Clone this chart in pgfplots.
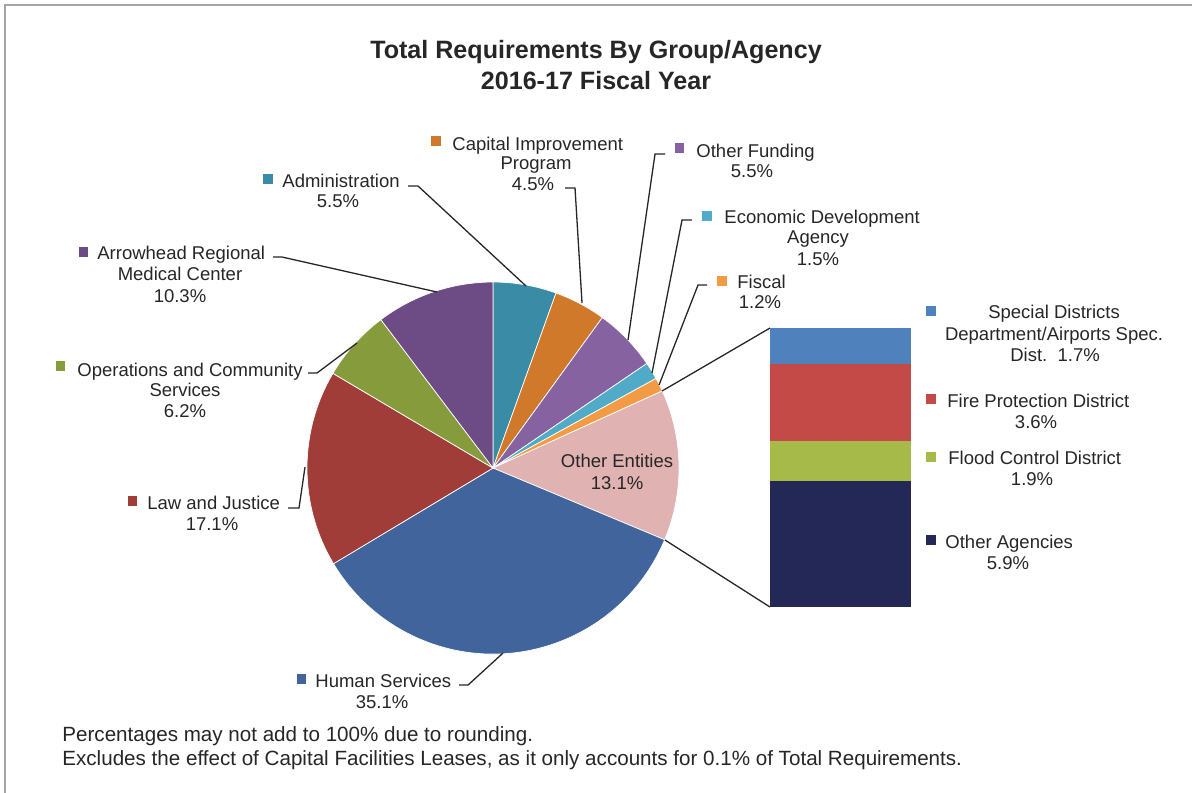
\documentclass[border=0pt]{standalone}
\usepackage{pgfplots}
\pgfplotsset{compat=1.18}
\usepackage{pgfplotstable}
\usepackage{fontspec}
\setmainfont{Liberation Sans}
\definecolor{cAdm}{HTML}{3A8BA6}
\definecolor{cCap}{HTML}{D0792B}
\definecolor{cOF}{HTML}{8762A0}
\definecolor{cEco}{HTML}{4FABC7}
\definecolor{cFis}{HTML}{F39A45}
\definecolor{cOE}{HTML}{E0B3B2}
\definecolor{cHum}{HTML}{40649B}
\definecolor{cLaw}{HTML}{A13D39}
\definecolor{cOps}{HTML}{869B3B}
\definecolor{cArr}{HTML}{6D4C86}
\definecolor{cSD}{HTML}{4F81BD}
\definecolor{cFire}{HTML}{C44A47}
\definecolor{cFlood}{HTML}{A6BA4A}
\definecolor{cOA}{HTML}{232856}
\definecolor{txt}{HTML}{262626}
\definecolor{frame}{HTML}{A6A6A6}

\pgfplotstableread{
name pct col
Administration 5.5 cAdm
CapitalImprovement 4.5 cCap
OtherFunding 5.5 cOF
EconomicDevelopment 1.5 cEco
Fiscal 1.2 cFis
OtherEntities 13.1 cOE
HumanServices 35.1 cHum
LawJustice 17.1 cLaw
Operations 6.2 cOps
Arrowhead 10.3 cArr
}\piedata

\newcommand\lf{\fontsize{9.25bp}{11bp}\selectfont}
\newcommand\tf{\fontsize{12.55bp}{14bp}\selectfont\bfseries}
\newcommand\ff{\fontsize{10.3bp}{12bp}\selectfont}
\newcommand\sq[3]{\node[fill=#1, minimum size=4.6bp, inner sep=0pt] at (#2,#3) {};}
\newcommand\lw[3]{\node[anchor=base west, font=\lf, text=txt, inner sep=0pt] at (#1,#2) {#3};}
\newcommand\lc[3]{\node[anchor=base, font=\lf, text=txt, inner sep=0pt] at (#1,#2) {#3};}

\begin{document}
\begin{tikzpicture}[x=0.5bp,y=-0.5bp]
\useasboundingbox (0,0) rectangle (1192,792);
\begin{axis}[at={(0bp,0bp)}, anchor=north west, width=596bp, height=396bp,
  scale only axis, xmin=0, xmax=1192, ymin=0, ymax=792, y dir=reverse,
  hide axis, clip=false]
% frame
\draw[frame, line width=0.8bp] (5,800) -- (5,5) -- (1200,5);
% pie wedges
\pgfplotsextra{%
  \def\startang{90}%
  \pgfplotsforeachungrouped \i in {0,...,9}{%
    \pgfplotstablegetelem{\i}{pct}\of\piedata \let\pct\pgfplotsretval
    \pgfplotstablegetelem{\i}{col}\of\piedata \let\col\pgfplotsretval
    \pgfmathsetmacro\endang{\startang-3.6*\pct}%
    \edef\tmp{\noexpand\fill[\col, draw=white, line width=0.35bp] (axis cs:493,468) -- ++(\startang:93bp) arc[start angle=\startang, end angle=\endang, radius=93bp] -- cycle;}%
    \tmp
    \global\let\startang\endang
  }%
}
% title
\node[anchor=base, font=\tf, text=txt, inner sep=0pt] at (596,58) {Total Requirements By Group/Agency};
\node[anchor=base, font=\tf, text=txt, inner sep=0pt] at (596,89) {2016-17 Fiscal Year};
% leader lines
\draw[txt, line width=0.65bp] (408,186) -- (418,186) -- (526,286);
\draw[txt, line width=0.65bp] (565,188) -- (575,188) -- (582,303);
\draw[txt, line width=0.65bp] (665,154) -- (655,154) -- (628,340);
\draw[txt, line width=0.65bp] (692,220) -- (682,220) -- (652,373);
\draw[txt, line width=0.65bp] (707,285) -- (698,285) -- (659,385);
\draw[txt, line width=0.65bp] (273,257) -- (282,257) -- (437,292);
\draw[txt, line width=0.65bp] (308,373) -- (317,373) -- (357,343);
\draw[txt, line width=0.65bp] (288,508) -- (299,508) -- (305,467);
\draw[txt, line width=0.65bp] (459,685) -- (468,685) -- (503,653);
% connectors to bar
\draw[txt, line width=0.65bp] (662,391) -- (770,328);
\draw[txt, line width=0.65bp] (665,540) -- (770,607);
% labels
\sq{cAdm}{268}{179}\lw{282}{187}{Administration}\lc{338}{207}{5.5\%}
\sq{cCap}{436}{141}\lw{452}{150}{Capital Improvement}\lc{536}{169.5}{Program}\lc{533}{190.5}{4.5\%}
\sq{cOF}{679.5}{148}\lw{696}{157}{Other Funding}\lc{752}{177}{5.5\%}
\sq{cEco}{707}{216}\lw{724}{223}{Economic Development}\lc{818}{243}{Agency}\lc{818}{265}{1.5\%}
\sq{cFis}{722}{281}\lw{737}{288}{Fiscal}\lc{760}{308}{1.2\%}
\sq{cArr}{83.5}{252}\lw{97}{259}{Arrowhead Regional}\lc{180}{280}{Medical Center}\lc{180}{302}{10.3\%}
\sq{cOps}{60.5}{366}\lw{77}{376}{Operations and Community}\lc{185}{396}{Services}\lc{185}{417}{6.2\%}
\sq{cLaw}{132.5}{501}\lw{147}{509}{Law and Justice}\lc{212}{530}{17.1\%}
\sq{cHum}{301.5}{679}\lw{315}{687}{Human Services}\lc{382}{708}{35.1\%}
\lc{617}{467}{Other Entities}\lc{617}{489}{13.1\%}
% bar labels
\sq{cSD}{931}{311}\lc{1054}{318}{Special Districts}\lc{1054}{340}{Department/Airports Spec.}\lc{1055}{361}{Dist.\ \ 1.7\%}
\sq{cFire}{931}{399}\lw{947}{407}{Fire Protection District}\lc{1036}{428}{3.6\%}
\sq{cFlood}{931}{457}\lw{948}{464}{Flood Control District}\lc{1032}{485}{1.9\%}
\sq{cOA}{931}{540}\lw{945}{548}{Other Agencies}\lc{1008}{569}{5.9\%}
% footnote
\node[anchor=base west, font=\ff, text=txt, inner sep=0pt] at (62,741) {Percentages may not add to 100\% due to rounding.};
\node[anchor=base west, font=\ff, text=txt, inner sep=0pt] at (62,765) {Excludes the effect of Capital Facilities Leases, as it only accounts for 0.1\% of Total Requirements.};
\end{axis}
\begin{axis}[at={(385bp,-303.5bp)}, anchor=south west, width=70.5bp, height=139.5bp,
  scale only axis, xmin=-0.5, xmax=0.5, ymin=0, ymax=13.1,
  ybar stacked, bar width=70.5bp, hide axis, clip=false]
\addplot[fill=cOA, draw=none] coordinates {(0,5.9)};
\addplot[fill=cFlood, draw=none] coordinates {(0,1.9)};
\addplot[fill=cFire, draw=none] coordinates {(0,3.6)};
\addplot[fill=cSD, draw=none] coordinates {(0,1.7)};
\end{axis}
\end{tikzpicture}
\end{document}
